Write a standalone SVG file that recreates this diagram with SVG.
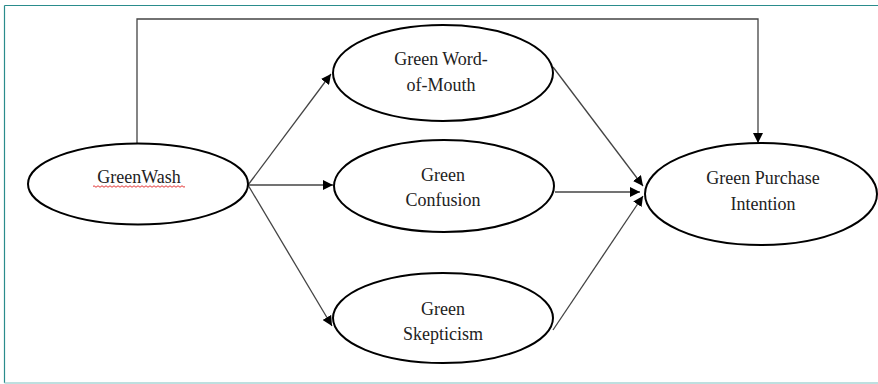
<svg xmlns="http://www.w3.org/2000/svg" width="878" height="384" viewBox="0 0 878 384">
<style>
.node ellipse{fill:#fff;stroke:#000;stroke-width:2}
.node text{font-family:"Liberation Serif","Times New Roman",serif;font-size:18px;fill:#222;text-anchor:middle}
.conn line,.conn polyline{stroke:#444;stroke-width:1.3;fill:none}
</style>
<defs>
<marker id="ah" viewBox="0 0 10 10" refX="10" refY="5" markerWidth="10" markerHeight="10" markerUnits="userSpaceOnUse" orient="auto">
<path d="M0,0 L10,5 L0,10 Z" fill="#000"/>
</marker>
</defs>
<rect width="878" height="384" fill="#fff"/>
<line x1="4.5" y1="5.5" x2="878" y2="5.5" stroke="#2a8c8c" stroke-width="1.2"/>
<line x1="4.5" y1="5.5" x2="4.5" y2="383" stroke="#2a8c8c" stroke-width="1.2"/>
<line x1="4.5" y1="383" x2="878" y2="383" stroke="#a8d4d4" stroke-width="1.5"/>
<g class="conn">
<polyline points="137,143 137,19 758,19 758,143" stroke="#555" stroke-width="2" marker-end="url(#ah)"/>
<line x1="248" y1="185" x2="331" y2="74" marker-end="url(#ah)"/>
<line x1="248" y1="185" x2="333" y2="185" marker-end="url(#ah)"/>
<line x1="248" y1="185" x2="332" y2="326" marker-end="url(#ah)"/>
<line x1="553" y1="67" x2="643" y2="186" marker-end="url(#ah)"/>
<line x1="555" y1="192" x2="640" y2="192" marker-end="url(#ah)"/>
<line x1="553" y1="330" x2="643" y2="196" marker-end="url(#ah)"/>
</g>
<g id="greenwash" class="node">
<ellipse cx="138" cy="184" rx="110" ry="40.5"/>
<text x="139" y="183">GreenWash</text>
<path d="M93,186.5 q1,-1.5 2,0 t2,0 t2,0 t2,0 t2,0 t2,0 t2,0 t2,0 t2,0 t2,0 t2,0 t2,0 t2,0 t2,0 t2,0 t2,0 t2,0 t2,0 t2,0 t2,0 t2,0 t2,0 t2,0 t2,0 t2,0 t2,0 t2,0 t2,0 t2,0 t2,0 t2,0 t2,0 t2,0 t2,0 t2,0 t2,0 t2,0 t2,0 t2,0 t2,0 t2,0 t2,0 t2,0 t2,0 t2,0 t2,0" fill="none" stroke="#e02020" stroke-width="0.9"/>
</g>
<g id="wom" class="node">
<ellipse cx="443" cy="73" rx="110" ry="48"/>
<text x="441" y="65">Green Word-</text>
<text x="441" y="91">of-Mouth</text>
</g>
<g id="confusion" class="node">
<ellipse cx="444" cy="186" rx="110" ry="46"/>
<text x="443" y="181">Green</text>
<text x="443" y="206">Confusion</text>
</g>
<g id="skepticism" class="node">
<ellipse cx="443" cy="318" rx="110" ry="45"/>
<text x="443" y="315">Green</text>
<text x="443" y="340">Skepticism</text>
</g>
<g id="gpi" class="node">
<ellipse cx="761" cy="194" rx="116" ry="51"/>
<text x="763" y="184">Green Purchase</text>
<text x="763" y="210">Intention</text>
</g>
</svg>
